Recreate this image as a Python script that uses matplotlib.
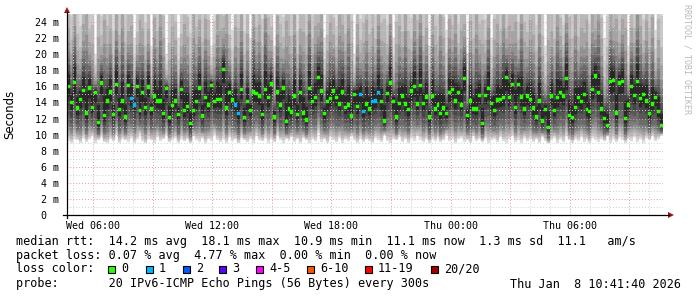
import numpy as np
import pandas as pd
import matplotlib
matplotlib.use("Agg")
import matplotlib.pyplot as plt
import matplotlib.dates as mdates
from matplotlib.patches import Rectangle, Polygon
from matplotlib.lines import Line2D

# ---------------- data ----------------
start_time = "2026-01-07 04:41:40"
step_minutes = 9

median_ms = [
    16, 14, 16.5, 13.3, 14.4, 15.5, 12.7, 15.8, 13.4, 15.2, 11.5, 16.4, 12.4, 14.2, 15.3, 12.5, 16.2, 13.1, 14.2, 12.2,
    16.1, 14.5, 13.7, 16, 13, 15.2, 13.4, 15.9, 13.2, 14.8, 14.2, 14.2, 12.6,
    15.7, 12.1, 13.6, 14.2, 12.5, 15.6, 13.0, 13.5, 11.4, 13, 14.1, 15.8, 12.3, 14.6, 13.7, 16.1, 14.1, 14.4, 14.4, 18.1,
    13.3, 15.2, 14.3, 13.7, 12.6, 15.6, 12.1, 14.1, 13, 15.3, 15.1, 14.8, 12.5,
    15.6, 14.6, 16.3, 12.2, 15.3, 13.7, 15.8, 11.6, 13.2, 12.8, 14.8, 12.5, 15.2, 12.7, 11.8, 15.7, 14.1, 14.6, 17.1, 15.4,
    12.6, 14.1, 14.5, 15.4, 14.6, 13.8, 15.3, 13.4, 13.7, 12.3, 15, 13.5, 15,
    12.9, 13.8, 13.2, 14.1, 14.2, 15.2, 14.1, 11.7, 15.1, 16.4, 14.1, 12.2, 13.9, 14.8, 13.8, 13.1, 15.4, 16, 13.8, 16.1,
    13.9, 14.7, 12.2, 14.8, 13.2, 13.7, 12.6, 13.3, 12.6, 15.2, 15.6, 14.2, 15.2,
    13.7, 17, 12.4, 14.2, 13.2, 13.2, 14.9, 11.4, 14.9, 15.7, 13.9, 13, 14.3, 14.4, 14.6, 17.1, 14.6, 16.2, 13.4, 16.2,
    14.7, 13.2, 14.8, 14.4, 13.3, 12.2, 14.2, 11.7, 13.1, 10.9, 14.8, 13, 14.6,
    15.2, 14.8, 17, 12.4, 12.1, 13.4, 14.6, 14.1, 15, 13.1, 12.9, 15.6, 17.3, 15.2, 13.2, 12, 11.1, 16.6, 16.7, 12.7,
    16.4, 16.6, 12, 13.7, 16, 14.9, 16.6, 14.5, 15, 14.2, 12.6, 13.8, 14.6, 12.9, 11.1,
]

lo_ms = [
    9.2, 9.0, 9.5, 9.3, 8.9, 9.6, 9.1, 9.4, 9.8, 9.0, 9.3, 9.7, 9.1, 8.9, 9.4, 9.2, 9.9, 9.0, 9.5, 9.3,
    9.1, 9.6, 9.0, 9.4, 10.1, 9.2, 8.9, 9.5, 9.3, 9.0, 9.7, 9.2, 9.4, 9.9, 9.1, 9.3, 9.6, 9.0, 9.5, 9.2,
    9.4, 9.0, 9.8, 9.3, 9.1, 9.6, 8.9, 9.4, 9.2, 10.0, 9.3, 9.1, 9.5, 9.0, 9.7, 9.2, 9.4, 8.9, 9.6, 9.3,
    9.1, 9.5, 9.0, 9.8, 9.3, 9.2, 9.6, 9.0, 9.4, 9.1, 9.9, 9.3, 9.0, 9.5, 9.2, 9.7, 9.1, 9.4, 8.9, 9.6,
    9.3, 9.0, 9.5, 9.2, 10.2, 9.1, 9.4, 9.0, 9.7, 9.3, 9.1, 9.6, 9.0, 9.4, 9.2, 9.8, 9.3, 9.0, 9.5, 9.1,
    9.4, 9.2, 9.0, 9.6, 9.3, 9.1, 9.9, 9.2, 9.0, 9.5, 9.3, 9.7, 9.1, 9.4, 9.0, 9.6, 9.2, 9.8, 9.3, 9.1,
    9.5, 9.0, 9.4, 9.2, 9.7, 9.1, 9.3, 10.0, 9.2, 9.5, 9.0, 9.4, 9.6, 9.1, 9.3, 9.0, 9.8, 9.2, 9.4, 9.1,
    9.6, 9.0, 9.3, 9.5, 9.1, 9.7, 9.2, 9.0, 9.4, 9.8, 9.1, 9.3, 9.0, 9.6, 9.2, 9.5, 9.1, 9.4, 9.0, 9.7,
    9.2, 8.9, 9.3, 9.6, 9.0, 9.4, 9.1, 9.8, 9.3, 9.0, 9.5, 9.2, 9.7, 9.1, 9.4, 9.0, 9.6, 9.3, 9.1, 9.5,
    9.2, 9.8, 9.0, 9.4, 9.1, 9.6, 9.3, 9.0, 9.5, 9.2, 9.7, 9.1, 9.4, 9.0, 9.6, 9.3, 9.8, 9.2, 9.5, 9.9,
]

hi_ms = [
    34, 29, 40, 31, 27, 36, 45, 30, 33, 20, 38, 28, 42, 32, 35, 27, 39, 31, 44, 30,
    33, 37, 22, 29, 41, 35, 28, 34, 21, 39, 31, 45, 36, 20, 30, 38, 33, 22, 29, 40,
    35, 27, 43, 32, 37, 30, 39, 34, 21, 28, 41, 36, 31, 44, 29, 23, 38, 33, 40, 27,
    35, 22, 42, 31, 37, 29, 45, 34, 30, 21, 39, 33, 28, 43, 36, 31, 40, 27, 35, 38,
    32, 44, 29, 37, 34, 41, 22, 30, 38, 33, 27, 42, 36, 31, 45, 35, 20, 39, 28, 34,
    40, 31, 37, 29, 43, 33, 36, 27, 41, 22, 35, 38, 30, 44, 32, 28, 39, 34, 42, 30,
    36, 21, 40, 33, 29, 45, 35, 23, 38, 31, 42, 27, 37, 34, 20, 39, 30, 44, 32, 36,
    28, 41, 22, 35, 38, 31, 43, 29, 37, 33, 40, 27, 45, 34, 30, 39, 36, 28, 42, 32,
    21, 38, 35, 30, 44, 33, 27, 40, 36, 31, 43, 29, 37, 34, 41, 28, 39, 32, 45, 35,
    22, 30, 38, 33, 42, 29, 36, 40, 21, 34, 31, 44, 37, 28, 39, 33, 41, 23, 35, 30,
]

# samples where pings were lost (sample index -> lost pings)
lost_pings = {21: 1, 22: 1, 56: 1, 57: 1, 98: 1, 99: 1, 102: 1, 103: 1, 104: 1}

loss_labels = ["0", "1", "2", "3", "4-5", "6-10", "11-19", "20/20"]
loss_colors = ["#26ff00", "#00b8ff", "#0059ff", "#5e00ff", "#ff00ff", "#ff5500", "#ff0000", "#a10000"]

yticks_ms = list(range(0, 25, 2))

legend_lines = [
    "median rtt:  14.2 ms avg  18.1 ms max  10.9 ms min  11.1 ms now  1.3 ms sd  11.1   am/s",
    "packet loss: 0.07 % avg  4.77 % max  0.00 % min  0.00 % now",
]
probe_text = "probe:       20 IPv6-ICMP Echo Pings (56 Bytes) every 300s"
stamp_text = "Thu Jan  8 10:41:40 2026"

# ---------------- figure ----------------
W, H = 697, 297
fig = plt.figure(figsize=(W / 100, H / 100), dpi=100)
fig.patch.set_facecolor("white")

def fx(x):
    return x / W

def fy(y):
    return 1 - y / H

ax = fig.add_axes([fx(67), fy(215), 596 / W, 201 / H])
ax.set_facecolor("white")
for s in ax.spines.values():
    s.set_visible(False)

n = len(median_ms)
times = pd.date_range(start_time, periods=n, freq=f"{step_minutes}min")
t = mdates.date2num(times.to_pydatetime())
width = step_minutes / 1440.0
med = np.array(median_ms, dtype=float)
lo = np.array(lo_ms, dtype=float)
hi = np.array(hi_ms, dtype=float)

# smoke: 10 layers from outer (light) to inner (dark)
grays = [221, 202, 183, 164, 145, 126, 107, 88, 69, 40]
up_frac = [1.0, 0.72, 0.52, 0.40, 0.30, 0.24, 0.19, 0.15, 0.11, 0.08]
dn_frac = [1.0, 0.95, 0.90, 0.84, 0.78, 0.72, 0.64, 0.50, 0.35, 0.20]
for g, fu, fd in zip(grays, up_frac, dn_frac):
    top = med + fu * (hi - med)
    bot = med - fd * (med - lo)
    c = "#%02x%02x%02x" % (g, g, g)
    ax.bar(t, top - bot, bottom=bot, width=width, align="edge", color=c,
           edgecolor=c, linewidth=0.2, zorder=1)

# grid
t0, t1 = t[0], t[-1] + width
ax.set_xlim(t0, t1)
ax.set_ylim(0, 25)
for h in pd.date_range(times[0].ceil("h"), times[-1] + pd.Timedelta(minutes=step_minutes), freq="h"):
    major = h.hour % 3 == 0
    ax.axvline(mdates.date2num(h.to_pydatetime()), color="#e39a9a" if major else "#cfcfcf",
               lw=0.7, ls=(0, (1, 2)), zorder=2)
for v in range(1, 26):
    major = v % 2 == 0
    ax.axhline(v, color="#e39a9a" if major else "#cfcfcf", lw=0.7, ls=(0, (1, 2)), zorder=2)

# median marks coloured by loss
cols = [loss_colors[lost_pings.get(i, 0)] for i in range(n)]
ax.bar(t, 0.42, bottom=med - 0.21, width=width, align="edge", color=cols,
       edgecolor=cols, linewidth=0.3, zorder=3)

# ticks
ax.set_yticks(yticks_ms)
ax.set_yticklabels([f"{v} m" if v else "0  " for v in yticks_ms],
                   family="DejaVu Sans Mono", fontsize=7.2)
ax.xaxis.set_major_locator(mdates.HourLocator(byhour=[0, 6, 12, 18]))
ax.xaxis.set_major_formatter(mdates.DateFormatter("%a %H:%M"))
for lab in ax.get_xticklabels():
    lab.set_family("DejaVu Sans Mono")
    lab.set_fontsize(7.2)
ax.tick_params(axis="y", length=0, pad=6, colors="#000000")
ax.tick_params(axis="x", length=0, pad=4, colors="#000000")

# axis lines with arrows
fig.add_artist(Line2D([fx(67), fx(67)], [fy(218), fy(12)], color="#000000", lw=0.9))
fig.add_artist(Line2D([fx(63), fx(669)], [fy(215), fy(215)], color="#000000", lw=0.9))
fig.add_artist(Polygon([(fx(64), fy(13)), (fx(70), fy(13)), (fx(67), fy(7))],
                       closed=True, color="#9e1414", lw=0))
fig.add_artist(Polygon([(fx(668), fy(212)), (fx(668), fy(218)), (fx(674), fy(215))],
                       closed=True, color="#9e1414", lw=0))

# labels
fig.text(fx(10), fy(114), "Seconds", rotation=90, ha="center", va="center",
         family="DejaVu Sans", fontsize=8.5, color="#000000")
fig.text(fx(687), fy(4), "RRDTOOL / TOBI OETIKER", rotation=270, ha="center", va="top",
         family="DejaVu Sans Mono", fontsize=6, color="#b8b8b8")

mono = dict(family="DejaVu Sans Mono", fontsize=8.5, color="#000000", va="center")
fig.text(fx(16), fy(241), legend_lines[0], ha="left", **mono)
fig.text(fx(16), fy(256), legend_lines[1], ha="left", **mono)
fig.text(fx(16), fy(269), "loss color:", ha="left", **mono)
sq_left = [108, 146, 183, 219, 256, 307, 365, 431]
for xl, lab, c in zip(sq_left, loss_labels, loss_colors):
    fig.add_artist(Rectangle((fx(xl), fy(273)), 7 / W, 7 / H, facecolor=c,
                             edgecolor="#000000", lw=0.8))
    fig.text(fx(xl + 13), fy(269), lab, ha="left", **mono)
fig.text(fx(16), fy(284), probe_text, ha="left", **mono)
fig.text(fx(681), fy(284), stamp_text, ha="right", **mono)

fig.savefig("out.png", dpi=100, facecolor="white")
